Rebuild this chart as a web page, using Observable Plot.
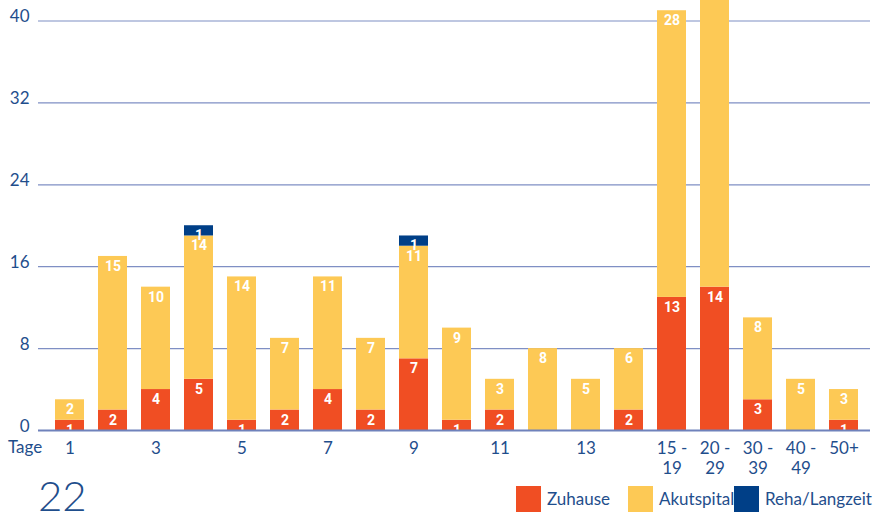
<!DOCTYPE html>
<html>
<head>
<meta charset="utf-8">
<script src="https://cdn.jsdelivr.net/npm/d3@7"></script>
<script src="https://cdn.jsdelivr.net/npm/@observablehq/plot@0.6"></script>
<style>
  html, body { margin: 0; padding: 0; background: #fff; }
  #wrap { position: relative; width: 874px; height: 512px; overflow: hidden; font-family: Lato, "Noto Sans", sans-serif; color: #1f4e8c; }
  .ov { position: absolute; white-space: nowrap; }
  .sw { position: absolute; width: 25px; height: 26px; }
</style>
</head>
<body>
<div id="wrap"></div>
<script>
const categories = ["1","2","3","4","5","6","7","8","9","10","11","12","13","14","15 - 19","20 - 29","30 - 39","40 - 49","50+"];
const zuhause    = [1, 2, 4, 5, 1, 2, 4, 2, 7, 1, 2, 0, 0, 2, 13, 14, 3, 0, 1];
const akutspital = [2, 15, 10, 14, 14, 7, 11, 7, 11, 9, 3, 8, 5, 6, 28, 30, 8, 5, 3];
const reha       = [0, 0, 0, 1, 0, 0, 0, 0, 1, 0, 0, 0, 0, 0, 0, 0, 0, 0, 0];
const seriesNames = ["Zuhause", "Akutspital", "Reha/Langzeit"];
const seriesColors = ["#f04e23", "#fdc955", "#003f87"];
const yTicks = [0, 8, 16, 24, 32, 40];
const xTickCats = ["1","3","5","7","9","11","13","15 - 19","20 - 29","30 - 39","40 - 49","50+"];
const xTickLabels = ["1","3","5","7","9","11","13","15 -\n19","20 -\n29","30 -\n39","40 -\n49","50+"];

const seriesValues = [zuhause, akutspital, reha];
const data = [];
seriesNames.forEach((s, si) => {
  categories.forEach((c, ci) => data.push({cat: c, series: s, value: seriesValues[si][ci]}));
});
const labelMap = new Map(xTickCats.map((c, i) => [c, xTickLabels[i]]));

const chart = Plot.plot({
  width: 874,
  height: 512,
  marginTop: 0,
  marginLeft: 38,
  marginRight: 0,
  marginBottom: 82,
  style: {fontFamily: "Lato, 'Noto Sans', sans-serif", fontSize: "17px", color: "#1f4e8c", background: "#fff"},
  x: {domain: categories, padding: 0.33},
  y: {domain: [0, 42]},
  color: {domain: seriesNames, range: seriesColors},
  marks: [
    Plot.ruleY(yTicks.filter(d => d > 0), {stroke: "#7f8fc4", strokeWidth: 1.2, insetRight: 4}),
    Plot.barY(data, {x: "cat", y: "value", fill: "series", order: seriesNames, clip: true}),
    Plot.text(data.filter(d => d.value > 0), Plot.stackY2({
      x: "cat", y: "value", z: "series", order: seriesNames,
      text: d => String(d.value), fill: "#fff", fontWeight: "bold", fontSize: 14,
      fontFamily: "Roboto, 'Noto Sans', sans-serif", dy: 10, lineAnchor: "middle"
    })),
    Plot.ruleY([0], {stroke: "#6f82bb", strokeWidth: 2, insetRight: 4}),
    Plot.axisY({ticks: yTicks, tickSize: 0, tickPadding: 9, label: null, dy: -4, fontSize: 17, fill: "#1f4e8c"}),
    Plot.axisX({ticks: xTickCats, tickSize: 0, tickPadding: 9, label: null, fontSize: 17, fill: "#1f4e8c",
      tickFormat: d => labelMap.get(d), lineHeight: 1.2, lineAnchor: "top"})
  ]
});

const wrap = document.getElementById("wrap");
wrap.appendChild(chart);

function addDiv(cls, style, text) {
  const d = document.createElement("div");
  d.className = cls;
  Object.assign(d.style, style);
  if (text != null) d.textContent = text;
  wrap.appendChild(d);
  return d;
}
addDiv("ov", {left: "8px", top: "436px", fontSize: "17px"}, "Tage");
addDiv("ov", {left: "38px", top: "470px", fontSize: "42px", fontWeight: "300", fontFamily: "Lato, 'Noto Sans', sans-serif"}, "22");

const legendX = [516, 628, 734];
seriesNames.forEach((s, i) => {
  addDiv("sw", {left: legendX[i] + "px", top: "486px", background: seriesColors[i]});
  addDiv("ov", {left: (legendX[i] + 31) + "px", top: "488px", fontSize: "17px"}, s);
});
</script>
</body>
</html>
